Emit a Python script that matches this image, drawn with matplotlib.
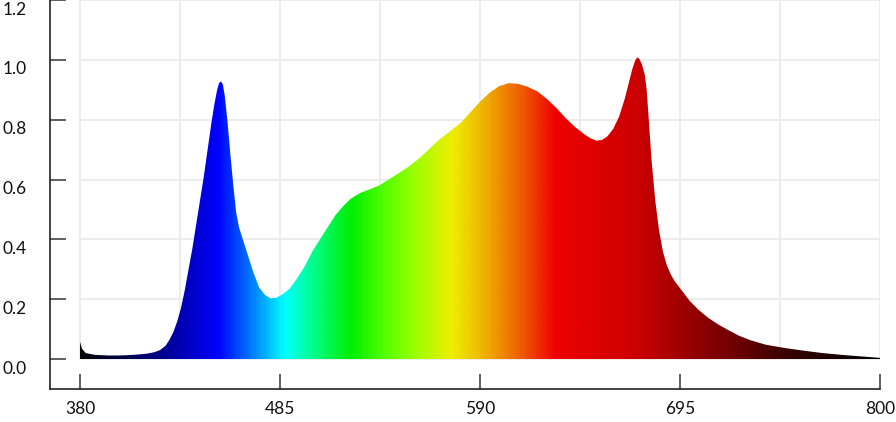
import numpy as np
import matplotlib
matplotlib.use("Agg")
import matplotlib.pyplot as plt
from matplotlib.colors import LinearSegmentedColormap
from matplotlib.transforms import ScaledTranslation

# spectrum (wavelength nm, relative intensity)
wavelength = [380, 381, 383, 388, 395, 400, 405, 410, 415, 419, 422, 425, 427, 429,
              431, 433, 435, 437, 439, 441, 443, 445, 447, 449, 450.5, 452, 453, 454,
              455, 456, 457.5, 459, 460.5, 462, 463.5, 465.5, 468, 471, 474, 477, 480,
              483, 486, 490, 494, 498, 502, 506, 510, 514, 518, 522, 527, 532, 537,
              542, 547, 553, 558, 563, 568, 574, 580, 585, 590, 595, 600, 605, 610,
              615, 620, 625, 630, 635, 640, 645, 648, 651, 654, 657, 660, 663, 666,
              668, 670, 671.5, 672.5, 673.5, 675, 676.5, 677.5, 678.5, 680, 682, 684,
              686, 688, 690, 692, 695, 700, 705, 710, 715, 720, 726, 732, 740, 750,
              760, 770, 780, 790, 800]
intensity = [0.058, 0.035, 0.02, 0.014, 0.012, 0.012, 0.013, 0.015, 0.018, 0.023,
             0.03, 0.045, 0.065, 0.09, 0.125, 0.17, 0.23, 0.3, 0.37, 0.45, 0.53,
             0.61, 0.7, 0.79, 0.85, 0.9, 0.922, 0.928, 0.918, 0.88, 0.79, 0.68, 0.58,
             0.49, 0.44, 0.4, 0.35, 0.29, 0.24, 0.215, 0.203, 0.205, 0.215, 0.235,
             0.27, 0.31, 0.36, 0.40, 0.44, 0.48, 0.51, 0.535, 0.555, 0.567, 0.58,
             0.6, 0.62, 0.645, 0.67, 0.70, 0.73, 0.76, 0.79, 0.825, 0.86, 0.89,
             0.912, 0.922, 0.92, 0.91, 0.895, 0.87, 0.84, 0.805, 0.775, 0.75, 0.738,
             0.73, 0.732, 0.745, 0.77, 0.81, 0.87, 0.92, 0.97, 0.998, 1.008, 1.005,
             0.985, 0.95, 0.9, 0.81, 0.67, 0.53, 0.43, 0.36, 0.315, 0.285, 0.262,
             0.237, 0.195, 0.163, 0.137, 0.116, 0.098, 0.078, 0.063, 0.048, 0.037,
             0.028, 0.02, 0.014, 0.009, 0.004]

xticks = [380, 485, 590, 695, 800]
yticks = [0.0, 0.2, 0.4, 0.6, 0.8, 1.0, 1.2]
grid_x = [380, 432.5, 485, 537.5, 590, 642.5, 695, 747.5, 800]

# colour of the fill along the wavelength axis
color_stops = [(380, "#050508"), (400, "#000040"), (422, "#00008c"), (440, "#0000d0"),
               (452, "#0000ff"), (470, "#0080ff"), (487, "#00ffff"), (500, "#00ff99"),
               (522, "#00ee00"), (540, "#55ff00"), (555, "#99ff00"), (575, "#eeee00"),
               (590, "#eebb00"), (610, "#ee6600"), (630, "#ee0000"), (673, "#cc0000"),
               (700, "#990000"), (729, "#660000"), (755, "#330000"), (800, "#000000")]

cmap = LinearSegmentedColormap.from_list(
    "spec", [((w - 380) / 420, c) for w, c in color_stops])

fig = plt.figure(figsize=(8.96, 4.22), dpi=100)
ax = fig.add_axes([50 / 896, 33 / 422, 830 / 896, 389 / 422])
ax.set_xlim(364.25, 800)
ax.set_ylim(-0.1, 1.2)

# light grid only inside the data area
ax.hlines(yticks, 380, 800, color="#ebebeb", lw=1.3, zorder=0)
ax.vlines(grid_x, 0, 1.2, color="#ebebeb", lw=1.3, zorder=0)

poly = ax.fill_between(wavelength, 0, intensity, color="none", lw=0)
grad = np.linspace(0, 1, 600).reshape(1, -1)
img = ax.imshow(grad, cmap=cmap, aspect="auto", extent=[380, 800, 0, 1.2],
                interpolation="bilinear", zorder=2)
img.set_clip_path(poly.get_paths()[0], transform=ax.transData)

for s in ["top", "right"]:
    ax.spines[s].set_visible(False)
for s in ["left", "bottom"]:
    ax.spines[s].set_color("#222222")
    ax.spines[s].set_linewidth(1.2)

ax.set_xticks(xticks)
ax.set_xticklabels([str(t) for t in xticks])
ax.set_yticks(yticks)
ax.set_yticklabels(["%.1f" % t for t in yticks])
ax.tick_params(axis="y", direction="in", length=11.5, width=1.2, color="#444444",
               pad=17, labelsize=12.5)
ax.tick_params(axis="x", direction="in", length=11, width=1.2, color="#444444",
               pad=9, labelsize=12.5)
off = ScaledTranslation(0, -8 / 100, fig.dpi_scale_trans)
for lab in ax.get_yticklabels():
    lab.set_transform(lab.get_transform() + off)
for lab in ax.get_xticklabels() + ax.get_yticklabels():
    lab.set_fontfamily("Lato")
    lab.set_color("#111111")

fig.savefig("out.png", dpi=100)
